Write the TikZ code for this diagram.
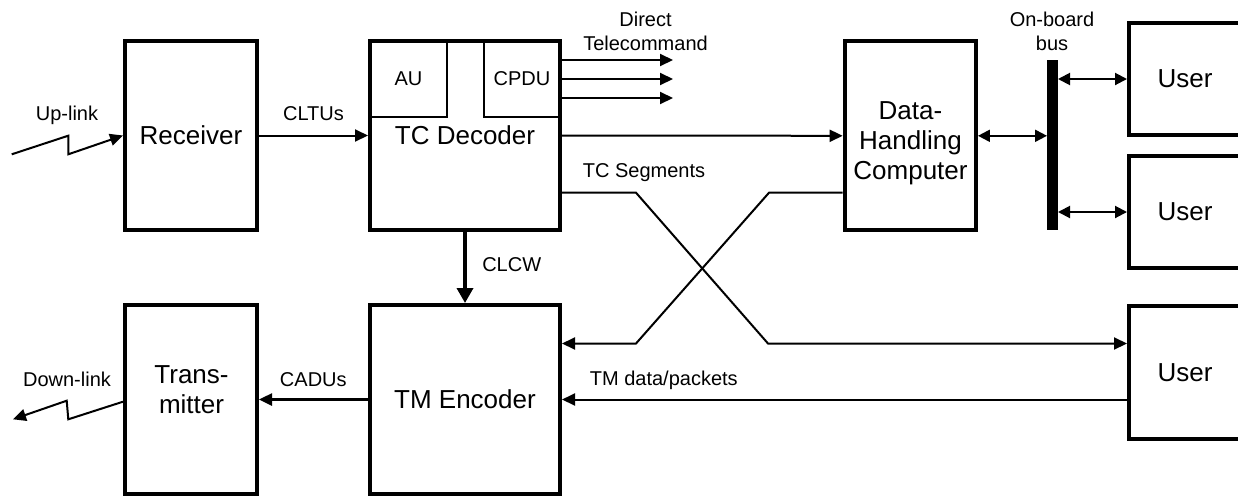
\documentclass[tikz,border=0pt]{standalone}
\usepackage{fontspec}
\setmainfont{Liberation Sans}
\usetikzlibrary{arrows.meta}
\newcommand\BigTxt{\fontsize{26}{30}\selectfont}
\newcommand\SmallTxt{\fontsize{20}{24}\selectfont}
\begin{document}
\begin{tikzpicture}[x=1pt,y=-1pt,
  box/.style={draw, line width=4pt, fill=white, inner sep=0pt, font=\BigTxt},
  thinbox/.style={draw, line width=1.7pt, inner sep=0pt, font=\SmallTxt},
  bigtxt/.style={inner sep=0pt, align=center, font=\BigTxt},
  lbl/.style={inner sep=0pt, align=center, font=\SmallTxt},
  busbar/.style={fill=black, draw=none, inner sep=0pt, outer sep=0pt, minimum width=11pt, minimum height=170pt},
  conn/.style={line width=2pt, -{Triangle[length=13pt,width=12pt]}},
  dbl/.style={line width=2pt, {Triangle[length=12pt,width=12pt]}-{Triangle[length=12pt,width=12pt]}}
]
\path[use as bounding box, fill=white] (0,0) rectangle (1238,496);
\clip (0,0) rectangle (1238,496);

% boxes
\node[box, minimum width=132pt, minimum height=189pt] (rx) at (191,135.5) {Receiver};
\node[box, minimum width=190pt, minimum height=189pt] (dec) at (465,135.5) {TC Decoder};
\node[thinbox, minimum width=77pt, minimum height=76pt] (au) at (408.5,79) {AU};
\node[thinbox, minimum width=76pt, minimum height=76pt] (cpdu) at (522,79) {CPDU};
\node[box, minimum width=131.3pt, minimum height=189pt] (dhc) at (910.3,135.8) {};
\node[bigtxt] (dhct) at (910.5,143.5) {Data-\\Handling\\Computer};
\node[busbar] (bus) at (1052.5,145) {};
\node[box, minimum width=112pt, minimum height=112pt] (u1) at (1185,79) {User};
\node[box, minimum width=112pt, minimum height=112pt] (u2) at (1185,212) {User};
\node[box, minimum width=112pt, minimum height=133pt] (u3) at (1185,372.5) {User};
\node[box, minimum width=132pt, minimum height=189pt] (tx) at (191,399.5) {};
\node[bigtxt] (txt) at (191.5,390) {Trans-\\mitter};
\node[box, minimum width=190pt, minimum height=189pt] (enc) at (465,399.5) {TM Encoder};

% up-link
\coordinate (ul0) at (11.7,154.3);
\draw[conn] (ul0) -- (68.3,135.7) -- (68.3,154.3) -- (rx.west);
\node[lbl, anchor=base] (ullbl) at (67,120.7) {Up-link};

% CLTUs
\draw[conn] (rx.east) -- (dec.west);
\node[lbl, anchor=base] (cltu) at (313.5,120.7) {CLTUs};

% direct telecommand
\coordinate (dt1) at (673,60);
\coordinate (dt2) at (673,79);
\coordinate (dt3) at (673,98);
\draw[conn] (dt1 -| dec.east) -- (dt1);
\draw[conn] (dt2 -| dec.east) -- (dt2);
\draw[conn] (dt3 -| dec.east) -- (dt3);
\node[lbl] (dtlbl) at (645.5,30.9) {Direct\\Telecommand};

% decoder to DHC
\draw[conn] (dec.east) -- (dhc.west);

% TC segments cross
\coordinate (s1) at (636,192.7);
\coordinate (s2) at (768,343.5);
\draw[conn] (dec.east |- s1) -- (s1) -- (s2) -- (s2 -| u3.west);
\node[lbl, anchor=base] (tcs) at (644,177.7) {TC Segments};
\coordinate (d1) at (769,192.7);
\coordinate (d2) at (636,343.5);
\draw[conn] (dhc.west |- d1) -- (d1) -- (d2) -- (d2 -| enc.east);

% bus
\draw[dbl] (dhc.east) -- (dhc.east -| bus.west);
\draw[dbl] (u1.west -| bus.east) -- (u1.west);
\draw[dbl] (u2.west -| bus.east) -- (u2.west);
\node[lbl] (buslbl) at (1052,31.5) {On-board\\bus};

% TM data
\draw[conn] (enc.east -| u3.west) -- (enc.east);
\node[lbl, anchor=base] (tmd) at (663.8,385.7) {TM data/packets};

% CLCW
\draw[line width=3.5pt, -{Triangle[length=15pt,width=16pt]}] (dec.south) -- (enc.north);
\node[lbl, anchor=base] (clcw) at (511.7,271.7) {CLCW};

% CADUs
\draw[conn, line width=2.5pt] (enc.west) -- (tx.east);
\node[lbl, anchor=base] (cadu) at (313.3,386) {CADUs};

% down-link
\draw[conn] ([yshift=-2.2pt]tx.west) -- (68.3,419.3) -- (66.7,400.7) -- (13,419.3);
\node[lbl, anchor=base] (dllbl) at (67,386) {Down-link};
\end{tikzpicture}
\end{document}
